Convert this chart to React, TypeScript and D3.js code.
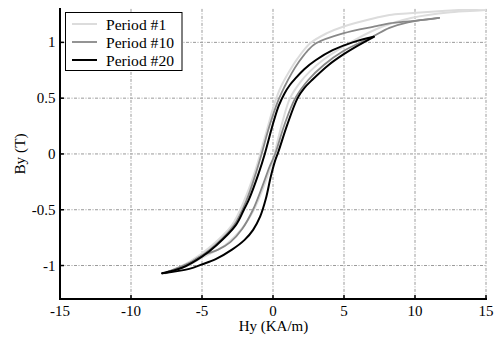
import React from "react";
import * as d3 from "d3";

type Pt = [number, number];

// Period #1 (light)
const p1Desc: Pt[] = [[17, 1.32], [14.3, 1.3], [9.6, 1.26], [8.2, 1.245], [7.27, 1.22], [4.93, 1.14], [3.76, 1.08], [2.6, 0.99], [1.7, 0.85], [1.1, 0.73], [0.55, 0.6], [0.1, 0.45], [-0.35, 0.25], [-0.9, 0], [-1.3, -0.17], [-2.0, -0.41], [-2.9, -0.64], [-4.3, -0.82], [-5.8, -0.96], [-7.6, -1.07]];
const p1Asc: Pt[] = [[-7.6, -1.07], [-6.0, -1.0], [-5.0, -0.93], [-3.4, -0.82], [-2.2, -0.67], [-1.35, -0.5], [-0.65, -0.29], [-0.15, -0.11], [0.1, 0], [0.65, 0.28], [1.2, 0.5], [1.9, 0.64], [2.6, 0.74], [3.5, 0.84], [4.93, 0.96], [7.3, 1.12], [9.8, 1.22], [12.5, 1.27], [15, 1.29], [17, 1.32]];

// Period #10 (gray)
const p10Desc: Pt[] = [[11.7, 1.22], [10.1, 1.195], [8.2, 1.17], [7.27, 1.145], [4.93, 1.08], [3.0, 0.99], [2.4, 0.92], [1.85, 0.83], [1.3, 0.72], [0.8, 0.6], [0.37, 0.48], [-0.25, 0.25], [-0.8, 0], [-1.2, -0.17], [-1.85, -0.41], [-2.75, -0.64], [-4.1, -0.82], [-5.5, -0.95], [-7.5, -1.06]];
const p10Asc: Pt[] = [[-7.5, -1.06], [-6.3, -1.01], [-5.0, -0.91], [-3.9, -0.86], [-3.0, -0.79], [-2.16, -0.67], [-1.41, -0.5], [-0.75, -0.29], [-0.23, -0.11], [0.15, 0], [0.8, 0.26], [1.57, 0.5], [2.5, 0.665], [3.6, 0.8], [4.93, 0.92], [7.0, 1.05], [8.2, 1.13], [9.5, 1.18], [11.7, 1.22]];

// Period #20 (black)
const p20Desc: Pt[] = [[7.1, 1.05], [5.6, 1.0], [4.2, 0.93], [3.0, 0.84], [2.2, 0.76], [1.6, 0.68], [1.2, 0.62], [0.8, 0.54], [0.4, 0.43], [0, 0.27], [-0.58, 0], [-1.0, -0.17], [-1.7, -0.41], [-2.05, -0.5], [-2.63, -0.64], [-4.0, -0.82], [-5.0, -0.92], [-6.4, -1.02], [-7.8, -1.07]];
const p20Asc: Pt[] = [[-7.8, -1.07], [-5.9, -1.03], [-5.0, -0.99], [-4.0, -0.94], [-2.86, -0.855], [-2.0, -0.77], [-1.4, -0.68], [-0.9, -0.56], [-0.5, -0.4], [-0.15, -0.2], [0.15, -0.06], [0.38, 0.02], [1.0, 0.26], [1.73, 0.5], [2.2, 0.59], [2.77, 0.665], [3.94, 0.8], [4.93, 0.89], [5.82, 0.96], [7.1, 1.05]];

const xTicks = [-15, -10, -5, 0, 5, 10, 15];
const yTicks = [-1, -0.5, 0, 0.5, 1];
const legendLabels = ["Period #1", "Period #10", "Period #20"];

const W = 494, H = 338;
const L = 60, R = 486, T = 8.9, B = 299;
const FONT = "'Liberation Serif', 'Times New Roman', serif";

export default function App() {
  const x = d3.scaleLinear().domain([-15, 15]).range([L, R]);
  const y = d3.scaleLinear().domain([-1.3, 1.3]).range([B, T]);
  const line = d3.line<Pt>().x(d => x(d[0])).y(d => y(d[1])).curve(d3.curveCatmullRom.alpha(0.5));

  const series = [
    { branches: [p1Desc, p1Asc], color: "#dcdcdc", width: 2 },
    { branches: [p10Desc, p10Asc], color: "#888888", width: 1.8 },
    { branches: [p20Desc, p20Asc], color: "#000000", width: 2 },
  ];

  return (
    <svg width={W} height={H} style={{ position: "absolute", left: 0, top: 0 }} fontFamily={FONT}>
      <defs>
        <clipPath id="plot">
          <rect x={L} y={T} width={R - L} height={B - T} />
        </clipPath>
      </defs>
      <rect x={0} y={0} width={W} height={H} fill="#fff" />
      {xTicks.filter(t => t !== -15).map(t => (
        <line key={"gx" + t} x1={x(t)} x2={x(t)} y1={T} y2={B} stroke="#9a9a9a" strokeWidth={1} strokeDasharray="3,1.5,1,1.5" />
      ))}
      {yTicks.map(t => (
        <line key={"gy" + t} x1={L} x2={R} y1={y(t)} y2={y(t)} stroke="#9a9a9a" strokeWidth={1} strokeDasharray="3,1.5,1,1.5" />
      ))}
      <g clipPath="url(#plot)">
        {series.map((s, i) =>
          s.branches.map((b, j) => (
            <path key={i + "-" + j} d={line(b) || ""} fill="none" stroke={s.color} strokeWidth={s.width} strokeLinejoin="round" strokeLinecap="round" />
          ))
        )}
      </g>
      <line x1={L} x2={L} y1={T - 1} y2={B + 1} stroke="#000" strokeWidth={2} />
      <line x1={L - 1} x2={R + 1} y1={B} y2={B} stroke="#000" strokeWidth={2} />
      {xTicks.map(t => (
        <g key={"xt" + t}>
          <line x1={x(t)} x2={x(t)} y1={B} y2={B - 4} stroke="#000" strokeWidth={1.5} />
          <text x={x(t)} y={315.5} fontSize={15} textAnchor="middle" fill="#000">{t}</text>
        </g>
      ))}
      {yTicks.map(t => (
        <g key={"yt" + t}>
          <line x1={L} x2={L + 4} y1={y(t)} y2={y(t)} stroke="#000" strokeWidth={1.5} />
          <text x={55.5} y={y(t) + 5} fontSize={15} textAnchor="end" fill="#000">{t}</text>
        </g>
      ))}
      <text x={273.5} y={331} fontSize={15} textAnchor="middle" fill="#000">Hy (KA/m)</text>
      <text transform={`translate(25,154) rotate(-90)`} fontSize={15.3} textAnchor="middle" fill="#000">By (T)</text>
      <rect x={65.5} y={12.5} width={116.5} height={58} fill="#fff" stroke="#000" strokeWidth={1} />
      {series.map((s, i) => (
        <g key={"lg" + i}>
          <line x1={72} x2={97} y1={24 + i * 18} y2={24 + i * 18} stroke={s.color} strokeWidth={s.width} />
          <text x={106} y={29.5 + i * 18} fontSize={15.6} fill="#000">{legendLabels[i]}</text>
        </g>
      ))}
    </svg>
  );
}
